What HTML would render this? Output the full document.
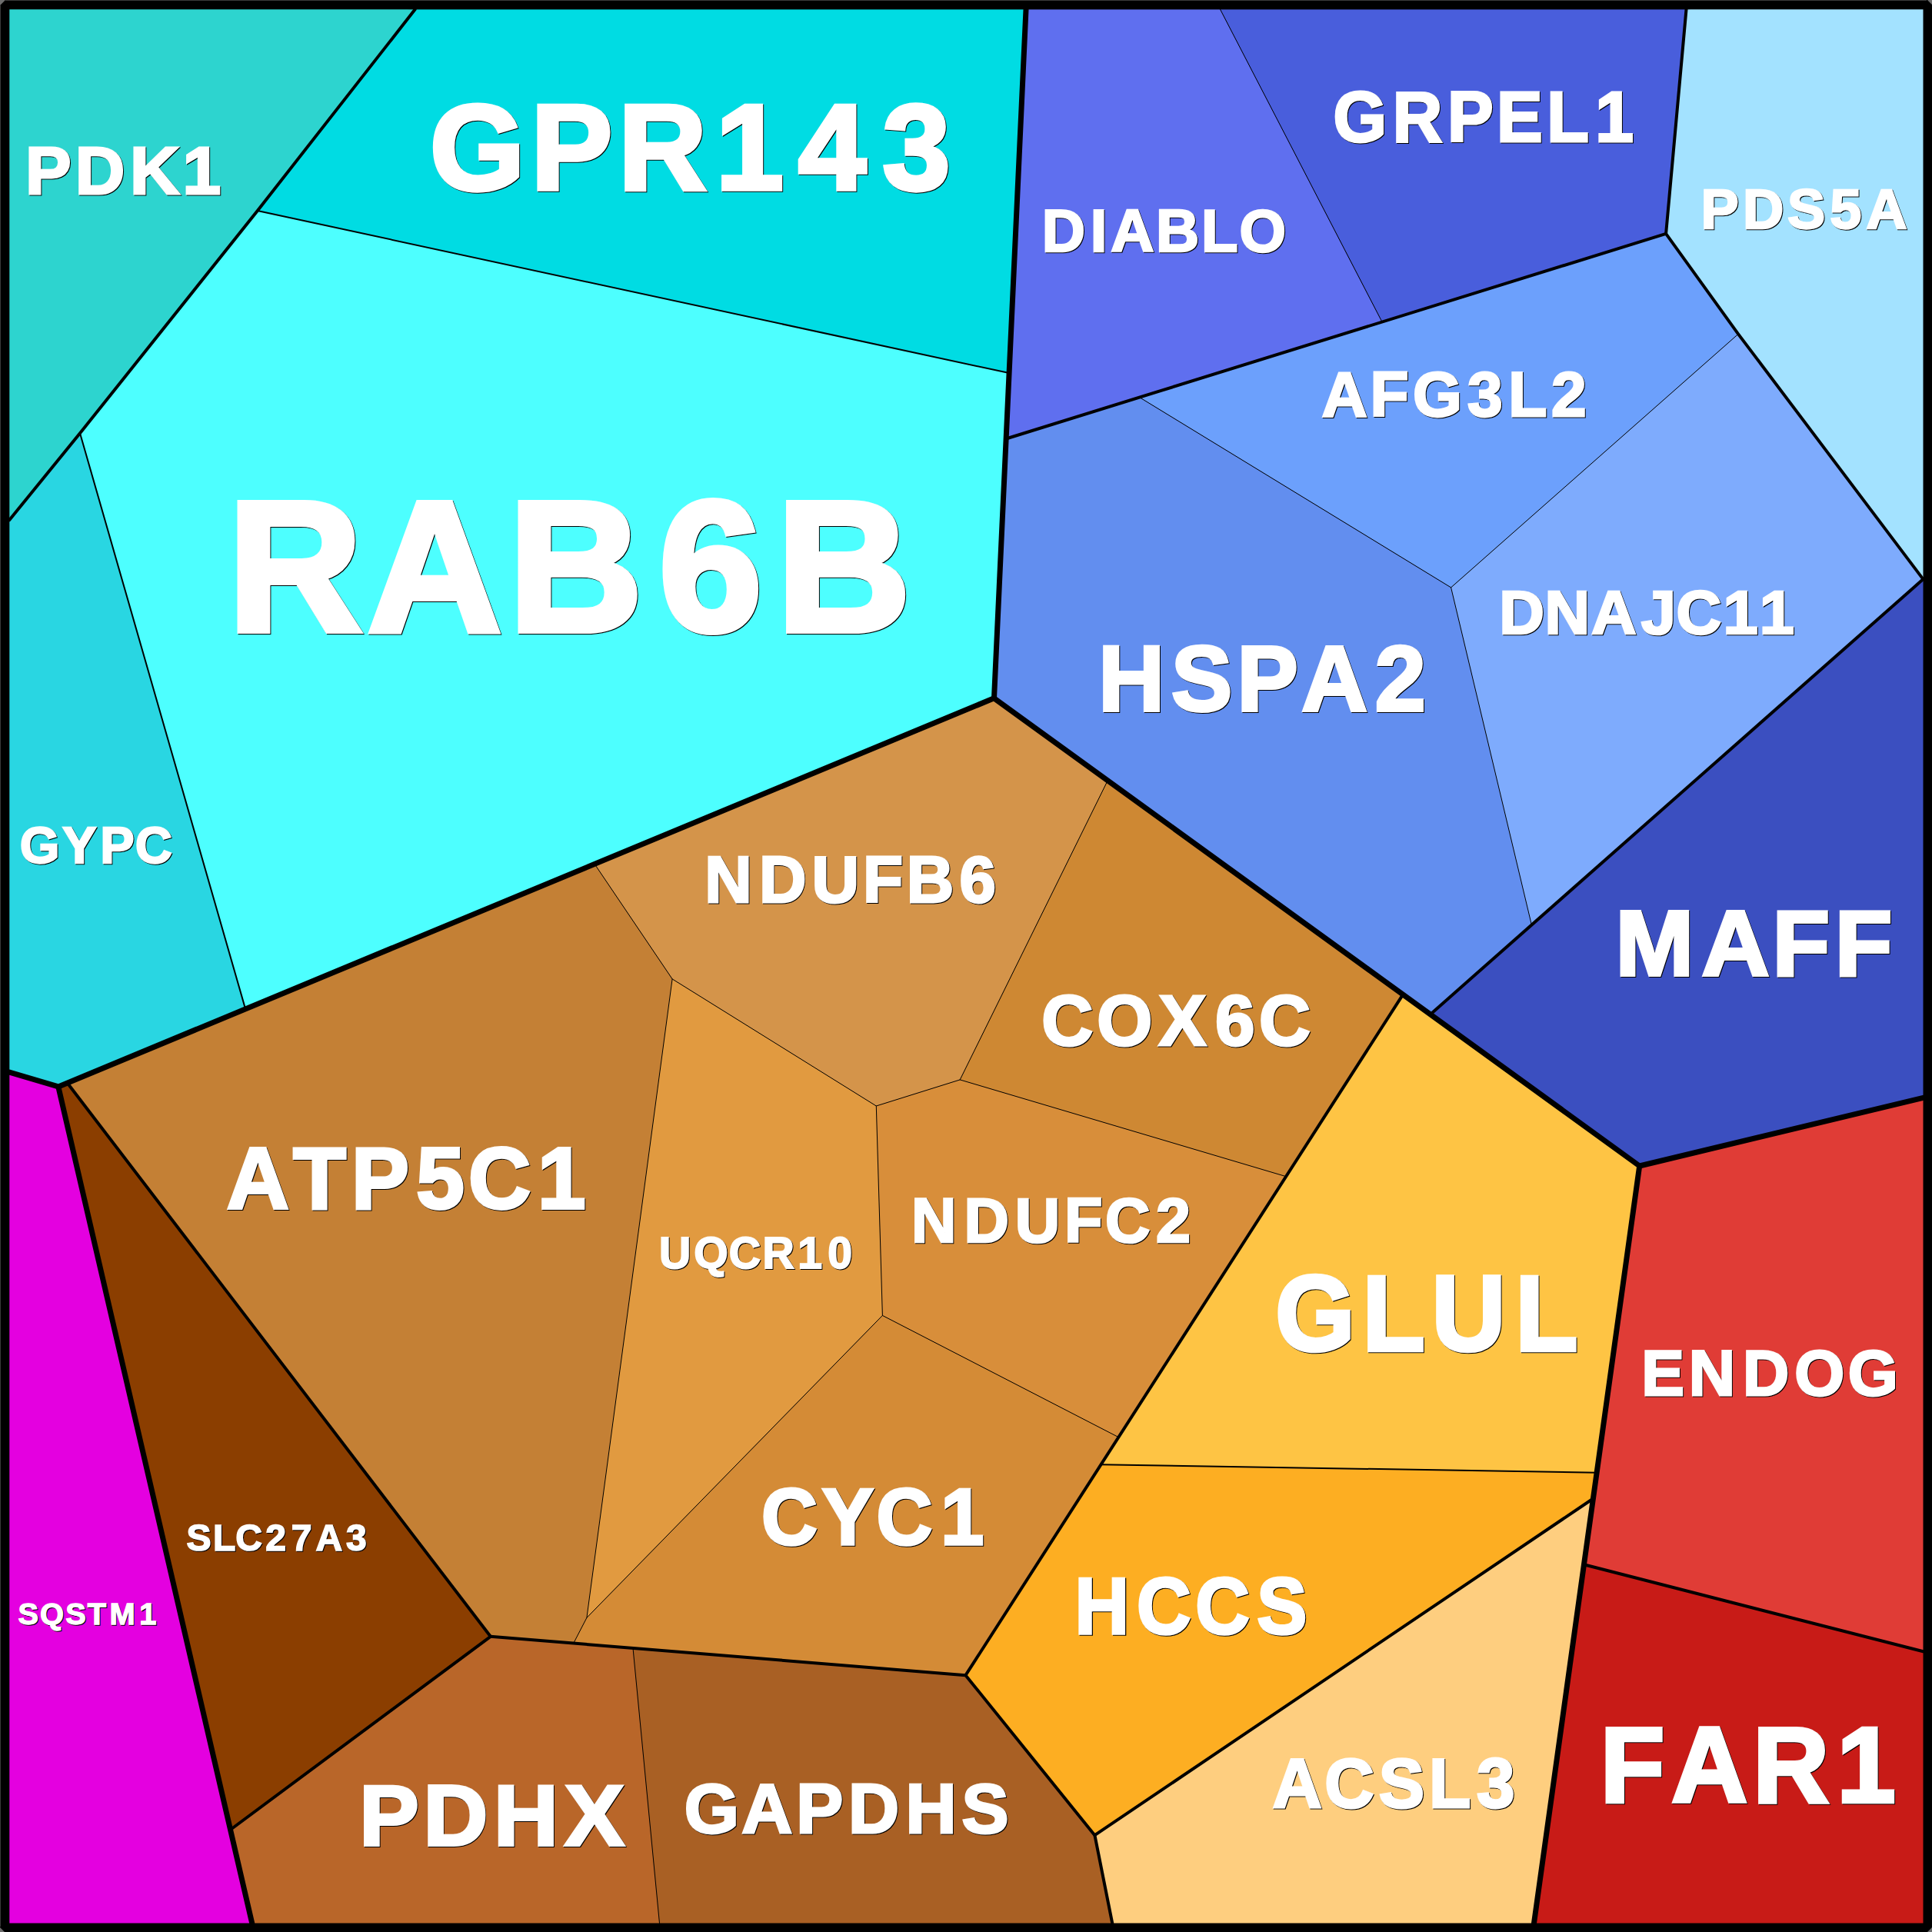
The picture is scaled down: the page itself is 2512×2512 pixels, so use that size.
<!DOCTYPE html>
<html><head><meta charset="utf-8"><title>Voronoi treemap</title>
<style>
html,body{margin:0;padding:0;background:#000;}
body{width:2512px;height:2512px;overflow:hidden;}
svg{display:block;}
text{font-family:"Liberation Sans",sans-serif;font-weight:bold;fill:#fff;stroke-linejoin:miter;}
.sh text{fill:#000;}
.ln{fill:none;stroke:#000;stroke-linejoin:round;stroke-linecap:round;}
</style></head><body>
<svg width="2512" height="2512" viewBox="0 0 2512 2512">
<rect width="2512" height="2512" fill="#000"/>
<g shape-rendering="geometricPrecision">
<polygon points="0.0,0.0 539.6,12.3 334.8,274.0 104.0,563.3 12.3,676.1 0.0,676.1" fill="#2dd4cf" stroke="#2dd4cf" stroke-width="0.6"/>
<polygon points="539.6,12.3 1334.0,12.3 1312.1,485.1 334.8,274.0" fill="#00dce3" stroke="#00dce3" stroke-width="0.6"/>
<polygon points="334.8,274.0 1312.1,485.1 1292.5,907.8 773.1,1123.4 319.1,1311.9 104.0,563.3" fill="#4dffff" stroke="#4dffff" stroke-width="0.6"/>
<polygon points="0.0,676.1 12.3,676.1 104.0,563.3 319.1,1311.9 75.8,1412.9 12.3,1394.2 0.0,1394.2" fill="#29d6e2" stroke="#29d6e2" stroke-width="0.6"/>
<polygon points="1334.0,12.3 1586.6,12.3 1797.0,418.6 1481.6,516.6 1308.1,570.5" fill="#5f6fef" stroke="#5f6fef" stroke-width="0.6"/>
<polygon points="1586.6,12.3 2192.5,12.3 2166.1,303.9 1797.0,418.6" fill="#495edc" stroke="#495edc" stroke-width="0.6"/>
<polygon points="2192.5,12.3 2512.0,0.0 2512.0,753.1 2500.5,753.1 2260.1,434.3 2166.1,303.9" fill="#a3e2ff" stroke="#a3e2ff" stroke-width="0.6"/>
<polygon points="1481.6,516.6 1797.0,418.6 2166.1,303.9 2260.1,434.3 1886.6,763.9" fill="#6ca0fc" stroke="#6ca0fc" stroke-width="0.6"/>
<polygon points="1308.1,570.5 1481.6,516.6 1886.6,763.9 1991.4,1202.6 1859.7,1318.9 1824.1,1293.1 1440.2,1014.9 1292.5,907.8" fill="#628eef" stroke="#628eef" stroke-width="0.6"/>
<polygon points="1886.6,763.9 2260.1,434.3 2500.5,753.1 1991.4,1202.6" fill="#7eabfd" stroke="#7eabfd" stroke-width="0.6"/>
<polygon points="2500.5,753.1 2512.0,753.1 2512.0,1427.3 2500.5,1427.3 2131.7,1516.0 1859.7,1318.9 1991.4,1202.6" fill="#3b4fc0" stroke="#3b4fc0" stroke-width="0.6"/>
<polygon points="773.1,1123.4 1292.5,907.8 1440.2,1014.9 1248.2,1403.9 1139.3,1438.0 874.1,1272.9" fill="#d4944a" stroke="#d4944a" stroke-width="0.6"/>
<polygon points="1440.2,1014.9 1824.1,1293.1 1672.1,1529.7 1248.2,1403.9" fill="#ce8833" stroke="#ce8833" stroke-width="0.6"/>
<polygon points="87.5,1408.0 319.1,1311.9 773.1,1123.4 874.1,1272.9 762.9,2103.4 745.7,2136.6 637.8,2127.8" fill="#c48035" stroke="#c48035" stroke-width="0.6"/>
<polygon points="874.1,1272.9 1139.3,1438.0 1147.4,1710.4 762.9,2103.4" fill="#e19a40" stroke="#e19a40" stroke-width="0.6"/>
<polygon points="1139.3,1438.0 1248.2,1403.9 1672.1,1529.7 1454.4,1868.7 1147.4,1710.4" fill="#d88e3a" stroke="#d88e3a" stroke-width="0.6"/>
<polygon points="762.9,2103.4 1147.4,1710.4 1454.4,1868.7 1431.5,1904.2 1255.5,2178.2 745.7,2136.6" fill="#d48b36" stroke="#d48b36" stroke-width="0.6"/>
<polygon points="75.8,1412.9 87.5,1408.0 637.8,2127.8 299.6,2379.0" fill="#8b3e00" stroke="#8b3e00" stroke-width="0.6"/>
<polygon points="299.6,2379.0 637.8,2127.8 823.0,2142.9 857.5,2500.5 857.5,2512.0 327.7,2512.0 327.7,2500.5" fill="#b96629" stroke="#b96629" stroke-width="0.6"/>
<polygon points="823.0,2142.9 1255.5,2178.2 1423.4,2386.2 1446.2,2500.5 1446.2,2512.0 857.5,2512.0 857.5,2500.5" fill="#a96024" stroke="#a96024" stroke-width="0.6"/>
<polygon points="0.0,1394.2 12.3,1394.2 75.8,1412.9 327.7,2500.5 327.7,2512.0 0.0,2512.0" fill="#e400e0" stroke="#e400e0" stroke-width="0.6"/>
<polygon points="1824.1,1293.1 2131.7,1516.0 2076.1,1914.7 1431.5,1904.2" fill="#fec444" stroke="#fec444" stroke-width="0.6"/>
<polygon points="1431.5,1904.2 2076.1,1914.7 2071.4,1948.5 1423.4,2386.2 1255.5,2178.2" fill="#fdae22" stroke="#fdae22" stroke-width="0.6"/>
<polygon points="1423.4,2386.2 2071.4,1948.5 1994.5,2500.5 1994.5,2512.0 1446.2,2512.0 1446.2,2500.5" fill="#fece7f" stroke="#fece7f" stroke-width="0.6"/>
<polygon points="2131.7,1516.0 2500.5,1427.3 2512.0,1427.3 2512.0,2147.3 2500.5,2147.3 2059.5,2034.3" fill="#e03c36" stroke="#e03c36" stroke-width="0.6"/>
<polygon points="2059.5,2034.3 2500.5,2147.3 2512.0,2147.3 2512.0,2512.0 1994.5,2512.0 1994.5,2500.5" fill="#c81b17" stroke="#c81b17" stroke-width="0.6"/>
</g>
<polyline class="ln" stroke-width="7.0" points="1334.0,12.3 1292.5,907.8"/>
<polyline class="ln" stroke-width="7.0" points="12.3,1394.2 75.8,1412.9 1292.5,907.8"/>
<polyline class="ln" stroke-width="7.0" points="1292.5,907.8 2131.7,1516.0 2500.5,1427.3"/>
<polyline class="ln" stroke-width="7.0" points="2131.7,1516.0 1994.5,2500.5"/>
<polyline class="ln" stroke-width="7.0" points="75.8,1412.9 327.7,2500.5"/>
<polyline class="ln" stroke-width="4.0" points="539.6,12.3 334.8,274.0 104.0,563.3 12.3,676.1"/>
<polyline class="ln" stroke-width="4.0" points="1308.1,570.5 2166.1,303.9"/>
<polyline class="ln" stroke-width="4.0" points="2192.5,12.3 2166.1,303.9 2260.1,434.3 2500.5,753.1"/>
<polyline class="ln" stroke-width="4.0" points="2500.5,753.1 1859.7,1318.9"/>
<polyline class="ln" stroke-width="4.0" points="1824.1,1293.1 1255.5,2178.2"/>
<polyline class="ln" stroke-width="4.0" points="637.8,2127.8 1255.5,2178.2 1423.4,2386.2 1446.2,2500.5"/>
<polyline class="ln" stroke-width="4.0" points="1423.4,2386.2 2071.4,1948.5"/>
<polyline class="ln" stroke-width="4.0" points="87.5,1408.0 637.8,2127.8 299.6,2379.0"/>
<polyline class="ln" stroke-width="4.0" points="2059.5,2034.3 2500.5,2147.3"/>
<polyline class="ln" stroke-width="2.0" points="334.8,274.0 1312.1,485.1"/>
<polyline class="ln" stroke-width="2.0" points="104.0,563.3 319.1,1311.9"/>
<polyline class="ln" stroke-width="2.0" points="1431.5,1904.2 2076.1,1914.7"/>
<polyline class="ln" stroke-width="1.0" points="1586.6,12.3 1797.0,418.6"/>
<polyline class="ln" stroke-width="1.0" points="1481.6,516.6 1886.6,763.9 2260.1,434.3"/>
<polyline class="ln" stroke-width="1.0" points="1886.6,763.9 1991.4,1202.6"/>
<polyline class="ln" stroke-width="1.0" points="773.1,1123.4 874.1,1272.9 762.9,2103.4"/>
<polyline class="ln" stroke-width="1.0" points="874.1,1272.9 1139.3,1438.0 1248.2,1403.9 1440.2,1014.9"/>
<polyline class="ln" stroke-width="1.0" points="1248.2,1403.9 1672.1,1529.7"/>
<polyline class="ln" stroke-width="1.0" points="1139.3,1438.0 1147.4,1710.4 1454.4,1868.7"/>
<polyline class="ln" stroke-width="1.0" points="1147.4,1710.4 762.9,2103.4 745.7,2136.6"/>
<polyline class="ln" stroke-width="1.0" points="823.0,2142.9 857.5,2500.5"/>
<path fill="#000" fill-rule="evenodd" d="M0 0H2512V2512H0Z M12.3 12.3V2500.5H2500.5V12.3Z"/>
<path d="M0 0H7L0 7Z M2512 2512h-6l6-6Z M2512 0h-6l6 6Z M0 2512v-6l6 6Z" fill="#6e6e6e"/>
<path d="M0.5 7V2505 M7 0.5H2505" stroke="#3a3a3a" stroke-width="1" fill="none"/>
<g class="sh" aria-hidden="true"><text transform="translate(0 253.03) scale(1.0233 1)" x="33.19 96.43 166.08 233.01" font-size="87.37" stroke="#000" stroke-width="2.94">PDK1</text>
<text transform="translate(0 247.04) scale(1.0035 1)" x="557.99 689.20 802.49 928.45 1035.29 1144.46" font-size="157.95" stroke="#000" stroke-width="5.31">GPR143</text>
<text transform="translate(0 821.13) scale(0.9966 1)" x="298.49 480.56 664.68 860.61 1014.44" font-size="241.91" stroke="#000" stroke-width="8.14">RAB6B</text>
<text transform="translate(0 1122.87) scale(0.9930 1)" x="26.89 82.47 132.15 178.04" font-size="67.15" stroke="#000" stroke-width="2.26">GYPC</text>
<text transform="translate(0 328.00) scale(1.0064 1)" x="1347.21 1409.64 1436.05 1494.45 1553.09 1602.26" font-size="77.38" stroke="#000" stroke-width="2.60">DIABLO</text>
<text transform="translate(0 184.74) scale(0.9624 1)" x="1802.20 1882.44 1956.62 2023.15 2090.83 2156.37" font-size="93.01" stroke="#000" stroke-width="3.13">GRPEL1</text>
<text transform="translate(0 298.18) scale(1.0207 1)" x="2167.60 2220.96 2277.84 2331.99 2378.02" font-size="72.38" stroke="#000" stroke-width="2.43">PDS5A</text>
<text transform="translate(0 541.82) scale(0.9993 1)" x="1720.61 1783.77 1839.27 1910.38 1963.74 2019.31" font-size="82.14" stroke="#000" stroke-width="2.76">AFG3L2</text>
<text transform="translate(0 925.08) scale(0.9910 1)" x="1442.35 1537.95 1624.12 1708.56 1805.10" font-size="119.84" stroke="#000" stroke-width="4.03">HSPA2</text>
<text transform="translate(0 825.26) scale(1.0175 1)" x="1916.60 1974.83 2034.45 2098.07 2143.11 2202.93 2249.37" font-size="79.89" stroke="#000" stroke-width="2.69">DNAJC11</text>
<text transform="translate(0 1268.68) scale(1.0174 1)" x="2065.68 2175.67 2266.04 2345.83" font-size="120.06" stroke="#000" stroke-width="4.04">MAFF</text>
<text transform="translate(0 1173.67) scale(1.0046 1)" x="913.04 983.36 1051.58 1117.79 1174.47 1242.85" font-size="84.85" stroke="#000" stroke-width="2.85">NDUFB6</text>
<text transform="translate(0 1360.43) scale(0.9915 1)" x="1366.79 1439.62 1520.39 1594.58 1652.05" font-size="93.41" stroke="#000" stroke-width="3.14">COX6C</text>
<text transform="translate(0 1572.00) scale(0.9960 1)" x="296.92 383.78 459.85 544.42 612.36 702.85" font-size="112.87" stroke="#000" stroke-width="3.80">ATP5C1</text>
<text transform="translate(0 1650.34) scale(1.0054 1)" x="853.29 898.37 943.58 987.29 1032.69 1071.48" font-size="56.83" stroke="#000" stroke-width="1.91">UQCR10</text>
<text transform="translate(0 1616.43) scale(0.9923 1)" x="1195.22 1264.17 1331.02 1395.86 1449.24 1515.74" font-size="81.53" stroke="#000" stroke-width="2.74">NDUFC2</text>
<text transform="translate(0 1756.85) scale(0.9530 1)" x="1741.10 1859.87 1954.42 2068.41" font-size="139.49" stroke="#000" stroke-width="4.69">GLUL</text>
<text transform="translate(0 2009.35) scale(0.9660 1)" x="1025.93 1107.52 1180.77 1267.33" font-size="104.33" stroke="#000" stroke-width="3.51">CYC1</text>
<text transform="translate(0 2125.44) scale(0.9323 1)" x="1500.19 1586.33 1668.20 1754.12" font-size="104.67" stroke="#000" stroke-width="3.52">HCCS</text>
<text transform="translate(0 2016.78) scale(0.9859 1)" x="246.96 282.06 311.57 351.30 385.08 417.35 457.39" font-size="48.77" stroke="#000" stroke-width="1.64">SLC27A3</text>
<text transform="translate(0 2112.54) scale(1.0141 1)" x="24.26 52.39 85.13 113.26 141.39 179.79" font-size="39.30" stroke="#000" stroke-width="1.32">SQSTM1</text>
<text transform="translate(0 2399.62) scale(1.0378 1)" x="451.18 531.30 619.57 708.38" font-size="111.80" stroke="#000" stroke-width="3.76">PDHX</text>
<text transform="translate(0 2384.09) scale(1.0157 1)" x="877.03 950.27 1020.34 1086.95 1160.22 1232.14" font-size="90.09" stroke="#000" stroke-width="3.03">GAPDHS</text>
<text transform="translate(0 2350.87) scale(0.9776 1)" x="1693.54 1762.68 1834.75 1901.65 1965.01" font-size="91.04" stroke="#000" stroke-width="3.06">ACSL3</text>
<text transform="translate(0 1814.69) scale(0.9941 1)" x="2147.93 2209.80 2280.38 2348.08 2418.10" font-size="84.07" stroke="#000" stroke-width="2.83">ENDOG</text>
<text transform="translate(0 2344.24) scale(0.9779 1)" x="2128.79 2223.28 2331.73 2443.48" font-size="140.06" stroke="#000" stroke-width="4.71">FAR1</text></g>
<g><text transform="translate(0 252.03) scale(1.0233 1)" x="32.21 95.45 165.10 232.04" font-size="87.37" stroke="#fff" stroke-width="2.94">PDK1</text>
<text transform="translate(0 246.04) scale(1.0035 1)" x="557.00 688.20 801.50 927.46 1034.30 1143.47" font-size="157.95" stroke="#fff" stroke-width="5.31">GPR143</text>
<text transform="translate(0 820.13) scale(0.9966 1)" x="297.49 479.55 663.68 859.61 1013.43" font-size="241.91" stroke="#fff" stroke-width="8.14">RAB6B</text>
<text transform="translate(0 1121.87) scale(0.9930 1)" x="25.88 81.46 131.14 177.04" font-size="67.15" stroke="#fff" stroke-width="2.26">GYPC</text>
<text transform="translate(0 327.00) scale(1.0064 1)" x="1346.22 1408.64 1435.06 1493.46 1552.10 1601.27" font-size="77.38" stroke="#fff" stroke-width="2.60">DIABLO</text>
<text transform="translate(0 183.74) scale(0.9624 1)" x="1801.16 1881.40 1955.59 2022.11 2089.79 2155.33" font-size="93.01" stroke="#fff" stroke-width="3.13">GRPEL1</text>
<text transform="translate(0 297.18) scale(1.0207 1)" x="2166.62 2219.98 2276.86 2331.01 2377.04" font-size="72.38" stroke="#fff" stroke-width="2.43">PDS5A</text>
<text transform="translate(0 540.82) scale(0.9993 1)" x="1719.61 1782.77 1838.27 1909.37 1962.74 2018.31" font-size="82.14" stroke="#fff" stroke-width="2.76">AFG3L2</text>
<text transform="translate(0 924.08) scale(0.9910 1)" x="1441.34 1536.95 1623.11 1707.55 1804.09" font-size="119.84" stroke="#fff" stroke-width="4.03">HSPA2</text>
<text transform="translate(0 824.26) scale(1.0175 1)" x="1915.62 1973.85 2033.47 2097.08 2142.12 2201.95 2248.39" font-size="79.89" stroke="#fff" stroke-width="2.69">DNAJC11</text>
<text transform="translate(0 1267.68) scale(1.0174 1)" x="2064.70 2174.68 2265.06 2344.84" font-size="120.06" stroke="#fff" stroke-width="4.04">MAFF</text>
<text transform="translate(0 1172.67) scale(1.0046 1)" x="912.04 982.37 1050.58 1116.79 1173.47 1241.86" font-size="84.85" stroke="#fff" stroke-width="2.85">NDUFB6</text>
<text transform="translate(0 1359.43) scale(0.9915 1)" x="1365.78 1438.61 1519.38 1593.57 1651.04" font-size="93.41" stroke="#fff" stroke-width="3.14">COX6C</text>
<text transform="translate(0 1571.00) scale(0.9960 1)" x="295.92 382.78 458.85 543.42 611.36 701.85" font-size="112.87" stroke="#fff" stroke-width="3.80">ATP5C1</text>
<text transform="translate(0 1649.34) scale(1.0054 1)" x="852.30 897.37 942.58 986.30 1031.69 1070.48" font-size="56.83" stroke="#fff" stroke-width="1.91">UQCR10</text>
<text transform="translate(0 1615.43) scale(0.9923 1)" x="1194.21 1263.17 1330.01 1394.85 1448.23 1514.74" font-size="81.53" stroke="#fff" stroke-width="2.74">NDUFC2</text>
<text transform="translate(0 1755.85) scale(0.9530 1)" x="1740.05 1858.82 1953.37 2067.36" font-size="139.49" stroke="#fff" stroke-width="4.69">GLUL</text>
<text transform="translate(0 2008.35) scale(0.9660 1)" x="1024.90 1106.49 1179.73 1266.30" font-size="104.33" stroke="#fff" stroke-width="3.51">CYC1</text>
<text transform="translate(0 2124.44) scale(0.9323 1)" x="1499.12 1585.26 1667.12 1753.04" font-size="104.67" stroke="#fff" stroke-width="3.52">HCCS</text>
<text transform="translate(0 2015.78) scale(0.9859 1)" x="245.95 281.04 310.56 350.29 384.07 416.33 456.37" font-size="48.77" stroke="#fff" stroke-width="1.64">SLC27A3</text>
<text transform="translate(0 2111.54) scale(1.0141 1)" x="23.27 51.40 84.15 112.28 140.40 178.80" font-size="39.30" stroke="#fff" stroke-width="1.32">SQSTM1</text>
<text transform="translate(0 2398.62) scale(1.0378 1)" x="450.22 530.34 618.61 707.42" font-size="111.80" stroke="#fff" stroke-width="3.76">PDHX</text>
<text transform="translate(0 2383.09) scale(1.0157 1)" x="876.04 949.28 1019.35 1085.96 1159.24 1231.15" font-size="90.09" stroke="#fff" stroke-width="3.03">GAPDHS</text>
<text transform="translate(0 2349.87) scale(0.9776 1)" x="1692.52 1761.66 1833.73 1900.63 1963.98" font-size="91.04" stroke="#fff" stroke-width="3.06">ACSL3</text>
<text transform="translate(0 1813.69) scale(0.9941 1)" x="2146.93 2208.80 2279.38 2347.08 2417.09" font-size="84.07" stroke="#fff" stroke-width="2.83">ENDOG</text>
<text transform="translate(0 2343.24) scale(0.9779 1)" x="2127.77 2222.26 2330.71 2442.45" font-size="140.06" stroke="#fff" stroke-width="4.71">FAR1</text></g>
</svg></body></html>
